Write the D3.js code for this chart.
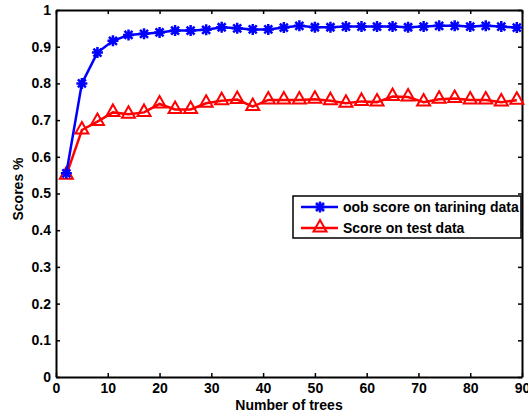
<html>
<script src="https://d3js.org/d3.v7.min.js"></script>
<style>
  body { margin: 0; background: white; }
  svg text { font-family: "Liberation Sans", Arial, sans-serif; font-weight: bold; font-size: 14px; fill: black; }
</style>
<body>
<svg id="chart" width="528" height="416"></svg>
<script>
// number of trees
var trees = [2, 5, 8, 11, 14, 17, 20, 23, 26, 29,
             32, 35, 38, 41, 44, 47, 50, 53, 56, 59,
             62, 65, 68, 71, 74, 77, 80, 83, 86, 89];
// oob score on training data
var oobScore = [0.555, 0.800, 0.884, 0.916, 0.932, 0.935, 0.939, 0.944, 0.944, 0.946,
                0.953, 0.950, 0.947, 0.947, 0.952, 0.957, 0.953, 0.953, 0.955, 0.955,
                0.955, 0.955, 0.953, 0.955, 0.957, 0.957, 0.955, 0.957, 0.955, 0.952];
// score on test data
var testScore = [0.550, 0.673, 0.696, 0.721, 0.716, 0.721, 0.744, 0.729, 0.729, 0.746,
                 0.753, 0.756, 0.737, 0.755, 0.755, 0.755, 0.757, 0.753, 0.746, 0.751,
                 0.749, 0.764, 0.763, 0.749, 0.757, 0.759, 0.755, 0.755, 0.749, 0.754];
var xTicks = [0, 10, 20, 30, 40, 50, 60, 70, 80, 90];
var yTicks = [0, 0.1, 0.2, 0.3, 0.4, 0.5, 0.6, 0.7, 0.8, 0.9, 1];
var seriesNames = ["oob score on tarining data", "Score on test data"];

var mLeft = 56, mTop = 10, mRight = 522, mBottom = 377;
var w = mRight - mLeft, h = mBottom - mTop;

var svg = d3.select("#chart");
var g = svg.append("g").attr("transform", "translate(" + mLeft + "," + mTop + ")");

var x = d3.scaleLinear().domain([0, 90]).range([0, w]);
var y = d3.scaleLinear().domain([0, 1]).range([h, 0]);

var yfmt = function (d) { return d3.format("~g")(d); };

// axes, ticks pointing in
g.append("g").attr("transform", "translate(0," + h + ")")
  .call(d3.axisBottom(x).tickValues(xTicks).tickSizeInner(-4).tickSizeOuter(0).tickPadding(6));
g.append("g")
  .call(d3.axisLeft(y).tickValues(yTicks).tickFormat(yfmt).tickSizeInner(-4).tickSizeOuter(0).tickPadding(5));
g.append("g")
  .call(d3.axisTop(x).tickValues(xTicks).tickSizeInner(-4).tickSizeOuter(0).tickFormat(""));
g.append("g").attr("transform", "translate(" + w + ",0)")
  .call(d3.axisRight(y).tickValues(yTicks).tickSizeInner(-4).tickSizeOuter(0).tickFormat(""));

g.selectAll(".domain").attr("stroke", "black").attr("stroke-width", 2);
g.selectAll(".tick line").attr("stroke", "black").attr("stroke-width", 1.5);
g.selectAll(".tick text").style("font-family", "'Liberation Sans', Arial, sans-serif").style("font-size", "14px").style("font-weight", "bold");

var line = d3.line()
  .x(function (d) { return x(d[0]); })
  .y(function (d) { return y(d[1]); });

var star = "M-5.5,0L5.5,0M0,-5.5L0,5.5M-4,-4L4,4M-4,4L4,-4";
var tri = "M0,-8L6.5,3.5L-6.5,3.5Z";

function drawSeries(vals, color, marker, sw) {
  var pts = trees.map(function (t, i) { return [t, vals[i]]; });
  g.append("path").datum(pts)
    .attr("d", line)
    .attr("fill", "none")
    .attr("stroke", color)
    .attr("stroke-width", 2.5);
  g.selectAll(null).data(pts).enter().append("path")
    .attr("transform", function (d) { return "translate(" + x(d[0]) + "," + y(d[1]) + ")"; })
    .attr("d", marker)
    .attr("fill", "none")
    .attr("stroke", color)
    .attr("stroke-width", sw);
}

drawSeries(testScore, "#ff0000", tri, 2);
drawSeries(oobScore, "#0000ff", star, 2.5);

// axis labels
svg.append("text")
  .attr("x", mLeft + w / 2)
  .attr("y", 410)
  .attr("text-anchor", "middle")
  .text("Number of trees");
svg.append("text")
  .attr("transform", "translate(23," + 189 + ") rotate(-90)")
  .attr("text-anchor", "middle")
  .text("Scores %");

// legend
var lg = svg.append("g").attr("transform", "translate(293,196)");
lg.append("rect")
  .attr("width", 228).attr("height", 42)
  .attr("fill", "white").attr("stroke", "black").attr("stroke-width", 1.5);
var legendItems = [
  { name: seriesNames[0], color: "#0000ff", marker: star, sw: 2.5 },
  { name: seriesNames[1], color: "#ff0000", marker: tri, sw: 2 }
];
legendItems.forEach(function (item, i) {
  var ly = 11 + i * 21;
  lg.append("line").attr("x1", 8).attr("x2", 45).attr("y1", ly).attr("y2", ly)
    .attr("stroke", item.color).attr("stroke-width", 2.5);
  lg.append("path").attr("transform", "translate(27," + ly + ")")
    .attr("d", item.marker).attr("fill", "none")
    .attr("stroke", item.color).attr("stroke-width", item.sw);
  lg.append("text").attr("x", 50).attr("y", ly).attr("dy", "0.35em").text(item.name);
});
</script>
</body>
</html>
